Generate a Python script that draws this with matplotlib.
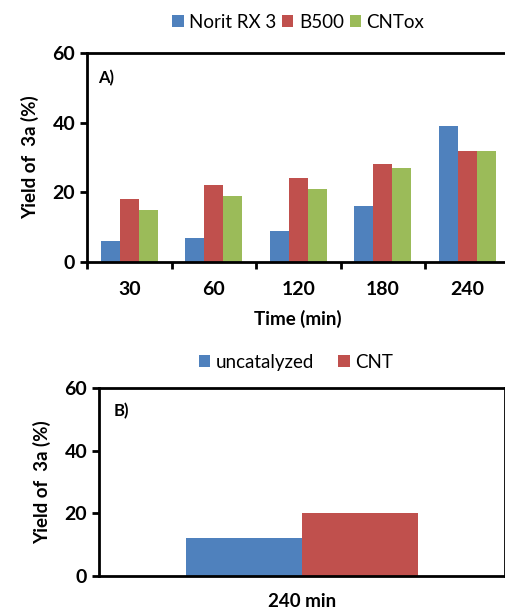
import numpy as np
import matplotlib.pyplot as plt

plt.rcParams['font.family'] = ['Lato', 'DejaVu Sans']

# panel A data
times = ['30', '60', '120', '180', '240']
norit = [6, 7, 9, 16, 39]
b500 = [18, 22, 24, 28, 32]
cntox = [15, 19, 21, 27, 32]

# panel B data
b_cat = ['240 min']
uncat = [12]
cnt = [20]

blue = '#4F81BD'
red = '#C0504D'
green = '#9BBB59'

fig = plt.figure(figsize=(5.06, 6.10), dpi=100)

# Panel A
ax1 = fig.add_axes([0.172, 0.5705, 0.835, 0.3426])
x = np.arange(len(times))
w = 0.225
ax1.bar(x - w, norit, w, color=blue, label='Norit RX 3')
ax1.bar(x, b500, w, color=red, label='B500')
ax1.bar(x + w, cntox, w, color=green, label='CNTox')
ax1.set_xlim(-0.5, len(times) - 0.5)
ax1.set_ylim(0, 60)
ax1.set_yticks([0, 20, 40, 60])
ax1.set_xticks(x)
ax1.set_xticklabels(times, fontweight='bold', fontsize=14)
ax1.set_xticks(np.arange(len(times) + 1) - 0.5, minor=True)
ax1.tick_params(axis='x', which='major', length=0, pad=14)
ax1.tick_params(axis='x', which='minor', length=5, width=2, direction='out')
ax1.tick_params(axis='y', length=5, width=2, direction='out', labelsize=14)
for t in ax1.get_yticklabels():
    t.set_fontweight('bold')
for s in ['left', 'bottom', 'top']:
    ax1.spines[s].set_linewidth(2)
ax1.spines['right'].set_visible(False)
ax1.set_ylabel('Yield of  3a (%)', fontweight='bold', fontsize=13.5, labelpad=10)
ax1.set_xlabel('Time (min)', fontweight='bold', fontsize=13.5, labelpad=8)
ax1.text(0.025, 0.92, 'A)', transform=ax1.transAxes, fontweight='bold',
         fontsize=12, va='top')
ax1.legend(loc='lower center', bbox_to_anchor=(0.50, 1.07), ncol=3,
           frameon=False, fontsize=13.5, handlelength=0.6, handleheight=0.6,
           handletextpad=0.3, columnspacing=0.3, borderaxespad=0)

# Panel B
ax2 = fig.add_axes([0.1957, 0.0557, 0.802, 0.3083])
wb = 0.286
xb = np.arange(len(b_cat))
ax2.bar(xb - wb / 2, uncat, wb, color=blue, label='uncatalyzed')
ax2.bar(xb + wb / 2, cnt, wb, color=red, label='CNT')
ax2.set_xlim(-0.5, 0.5)
ax2.set_ylim(0, 60)
ax2.set_yticks([0, 20, 40, 60])
ax2.set_xticks(xb)
ax2.set_xticklabels(b_cat, fontweight='bold', fontsize=13.5)
ax2.tick_params(axis='x', length=0, pad=12)
ax2.tick_params(axis='y', length=5, width=2, direction='out', labelsize=14)
for t in ax2.get_yticklabels():
    t.set_fontweight('bold')
for s in ax2.spines.values():
    s.set_linewidth(2)
ax2.set_ylabel('Yield of  3a (%)', fontweight='bold', fontsize=13.5, labelpad=10)
ax2.text(0.035, 0.92, 'B)', transform=ax2.transAxes, fontweight='bold',
         fontsize=12, va='top')
ax2.legend(loc='lower center', bbox_to_anchor=(0.485, 1.05), ncol=2,
           frameon=False, fontsize=13.5, handlelength=0.6, handleheight=0.6,
           handletextpad=0.3, columnspacing=1.3, borderaxespad=0)

fig.savefig('out.png', dpi=100)
